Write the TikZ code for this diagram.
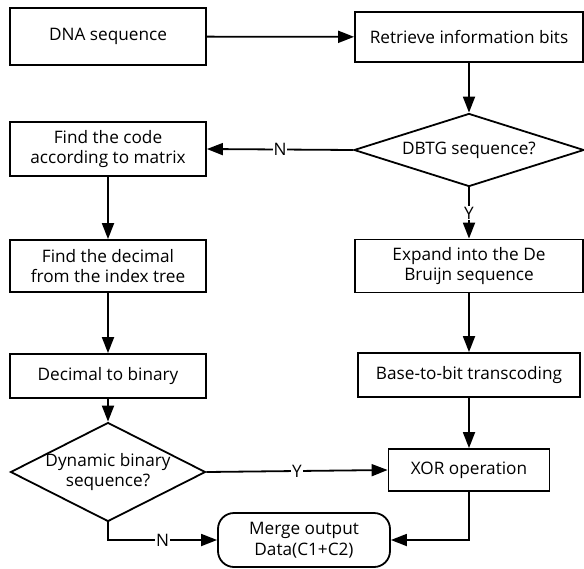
\documentclass[tikz,border=0pt]{standalone}
\usepackage{fontspec}
\setmainfont{Open Sans}
\usepackage{tikz}
\usetikzlibrary{
  arrows.meta,
  shapes.geometric,
  positioning,
  calc
}
\tikzset{
  proc/.style={
    rectangle, draw=black, line width=1.8pt, fill=white,
    minimum width=#1, minimum height=50pt,
    font=\fontsize{17.2}{20.5}\selectfont, align=center, inner sep=2pt
  },
  proc/.default=196pt,
  decision/.style={
    diamond, draw=black, line width=1.8pt, fill=white,
    inner sep=0pt, font=\fontsize{17.2}{20.5}\selectfont, align=center
  },
  terminal/.style={
    rectangle, rounded corners=16pt, draw=black, line width=1.8pt,
    minimum width=172pt, minimum height=54pt,
    font=\fontsize{17.2}{20.5}\selectfont, align=center
  },
  txt/.style={font=\fontsize{17.2}{20.5}\selectfont, align=center, inner sep=0pt},
  arr/.style={-{Triangle[length=16pt, width=12pt]}, line width=1.8pt},
  lbl/.style={fill=white, font=\fontsize{17.2}{20.5}\selectfont, inner sep=1pt}
}
\begin{document}
\begin{tikzpicture}[x=1pt, y=-1pt]

    \useasboundingbox (0,0) rectangle (584,568);

    %% Left column
    \node[proc, minimum height=57pt] (dna) at (108,36.5) {DNA sequence};
    \node[proc, minimum height=54pt] (code) at (108,149)
      {Find the code\\according to matrix};
    \node[proc, minimum height=52pt] (dec) at (108,266)
      {Find the decimal\\from the index tree};
    \node[proc, minimum height=44pt] (bin) at (108,376) {Decimal to binary};
    \node[decision, minimum width=195pt, minimum height=99pt] (dyn) at (108,472) {};
    \node[txt] (dyntxt) at (dyn) {Dynamic binary\\sequence?};

    %% Right column
    \node[proc=228pt] (retr) at (469,37) {Retrieve information bits};
    \node[decision, minimum width=230pt, minimum height=73pt] (dbtg) at (469,150) {};
    \node[txt] (dbtgtxt) at (dbtg) {DBTG sequence?};
    \node[proc=228pt, minimum height=53pt] (exp) at (469,266)
      {Expand into the De\\Bruijn sequence};
    \node[proc=222pt, minimum height=44pt] (base) at (469,375)
      {Base-to-bit transcoding};
    \node[proc=161pt, minimum height=42pt] (xor) at (469,470) {XOR operation};

    %% Output
    \node[terminal] (merge) at (304,540) {Merge output\\Data(C1+C2)};

    %% Connectors
    \draw[arr] (dna) -- (retr);
    \draw[arr] (retr) -- (dbtg);
    \draw[arr] (dbtg.west) -- node[lbl] {N} (code.east);
    \draw[arr] (code) -- (dec);
    \draw[arr] (dec) -- (bin);
    \draw[arr] (bin) -- (dyn.north);
    \draw[arr] (dbtg.south) -- node[lbl] {Y} (exp.north);
    \draw[arr] (exp) -- (base);
    \draw[arr] (base) -- (xor);
    \draw[arr] (dyn.east) -- node[lbl] {Y} (xor.west);
    \draw[arr] (dyn.south) |- node[lbl, pos=0.75] {N} (merge.west);
    \draw[arr] (xor.south) |- (merge.east);

  \end{tikzpicture}
\end{document}
